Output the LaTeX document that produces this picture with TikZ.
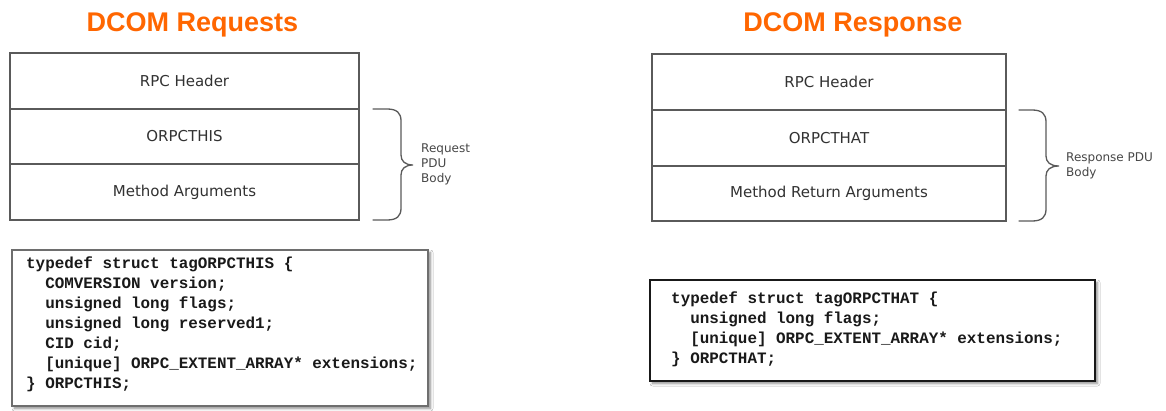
\documentclass[tikz,border=0pt]{standalone}
\usepackage{fontspec}
\usetikzlibrary{shadows.blur}
\newfontfamily\dvfont{DejaVu Sans}
\newfontfamily\codefont{Liberation Mono}
\newfontfamily\titlefont{Liberation Sans}
\definecolor{dcomorange}{RGB}{255,102,0}
\definecolor{boxline}{RGB}{90,90,90}
\definecolor{boxtext}{RGB}{50,50,50}
\definecolor{lbltext}{RGB}{70,70,70}
\tikzset{
  title/.style={font=\titlefont\bfseries\fontsize{27}{30}\selectfont, text=dcomorange, anchor=base, inner sep=0pt},
  rowbox/.style={draw=boxline, line width=1.5pt, fill=white, font=\dvfont\fontsize{15}{18}\selectfont, text=boxtext, inner sep=0pt},
  bracelabel/.style={font=\dvfont\fontsize{12}{15}\selectfont, text=lbltext, align=left, anchor=west, inner sep=0pt},
  bracepath/.style={draw=boxline, line width=1.3pt, line cap=round},
  codebox/.style={fill=white, line width=1.4pt, inner sep=0pt,
    blur shadow={shadow xshift=2.5pt, shadow yshift=-2.5pt, shadow blur steps=6, shadow blur radius=2.5pt, shadow opacity=45}},
  codetext/.style={font=\codefont\bfseries\fontsize{15.9}{20}\selectfont, text=black!90, align=left, anchor=west, inner sep=0pt}
}
\begin{document}
\begin{tikzpicture}[x=1pt,y=-1pt]
\useasboundingbox (0,0) rectangle (1166,411);
\fill[white] (0,0) rectangle (1166,411);

% titles
\node[title] (t1) at (192.5,31.5) {DCOM Requests};
\node[title] (t2) at (853,31.5) {DCOM Response};

% left stack
\node[rowbox, minimum width=349pt, minimum height=56pt] (l1) at (184.5,81) {RPC Header};
\node[rowbox, minimum width=349pt, minimum height=55pt] (l2) at (184.5,136.5) {ORPCTHIS};
\node[rowbox, minimum width=349pt, minimum height=56pt] (l3) at (184.5,192) {Method Arguments};

% right stack
\node[rowbox, minimum width=354pt, minimum height=56pt] (r1) at (829,82) {RPC Header};
\node[rowbox, minimum width=354pt, minimum height=56pt] (r2) at (829,138) {ORPCTHAT};
\node[rowbox, minimum width=354pt, minimum height=55pt] (r3) at (829,193.5) {Method Return Arguments};

% left brace
\draw[bracepath] (373,109) -- (387,109) .. controls (397,109) and (401,113) .. (401,121)
  -- (401,155) .. controls (401,161) and (405,165) .. (413,165)
  .. controls (405,165) and (401,169) .. (401,175)
  -- (401,208) .. controls (401,216) and (397,220) .. (387,220) -- (373,220);
\node[bracelabel] (lb) at (421,164.5) {Request\\PDU\\Body};

% right brace
\draw[bracepath] (1019,110) -- (1032,110) .. controls (1042,110) and (1046,114) .. (1046,122)
  -- (1046,156) .. controls (1046,162) and (1050,166) .. (1059,166)
  .. controls (1050,166) and (1046,170) .. (1046,176)
  -- (1046,209) .. controls (1046,217) and (1042,221) .. (1032,221) -- (1019,221);
\node[bracelabel] (rb) at (1066,165.5) {Response PDU\\Body};

% left code box
\node[codebox, draw={rgb,255:red,110;green,110;blue,110}, minimum width=416pt, minimum height=156pt] (lcb) at (220,328) {};
\node[codetext] (lct) at (26,324) {typedef struct tagORPCTHIS \{\\
\ \ COMVERSION version;\\
\ \ unsigned long flags;\\
\ \ unsigned long reserved1;\\
\ \ CID cid;\\
\ \ [unique] ORPC\_EXTENT\_ARRAY* extensions;\\
\} ORPCTHIS;};

% right code box
\node[codebox, draw=black!90, line width=1.8pt, minimum width=445pt, minimum height=101pt] (rcb) at (872.5,330.5) {};
\node[codetext] (rct) at (671,329) {typedef struct tagORPCTHAT \{\\
\ \ unsigned long flags;\\
\ \ [unique] ORPC\_EXTENT\_ARRAY* extensions;\\
\} ORPCTHAT;};
\end{tikzpicture}
\end{document}
